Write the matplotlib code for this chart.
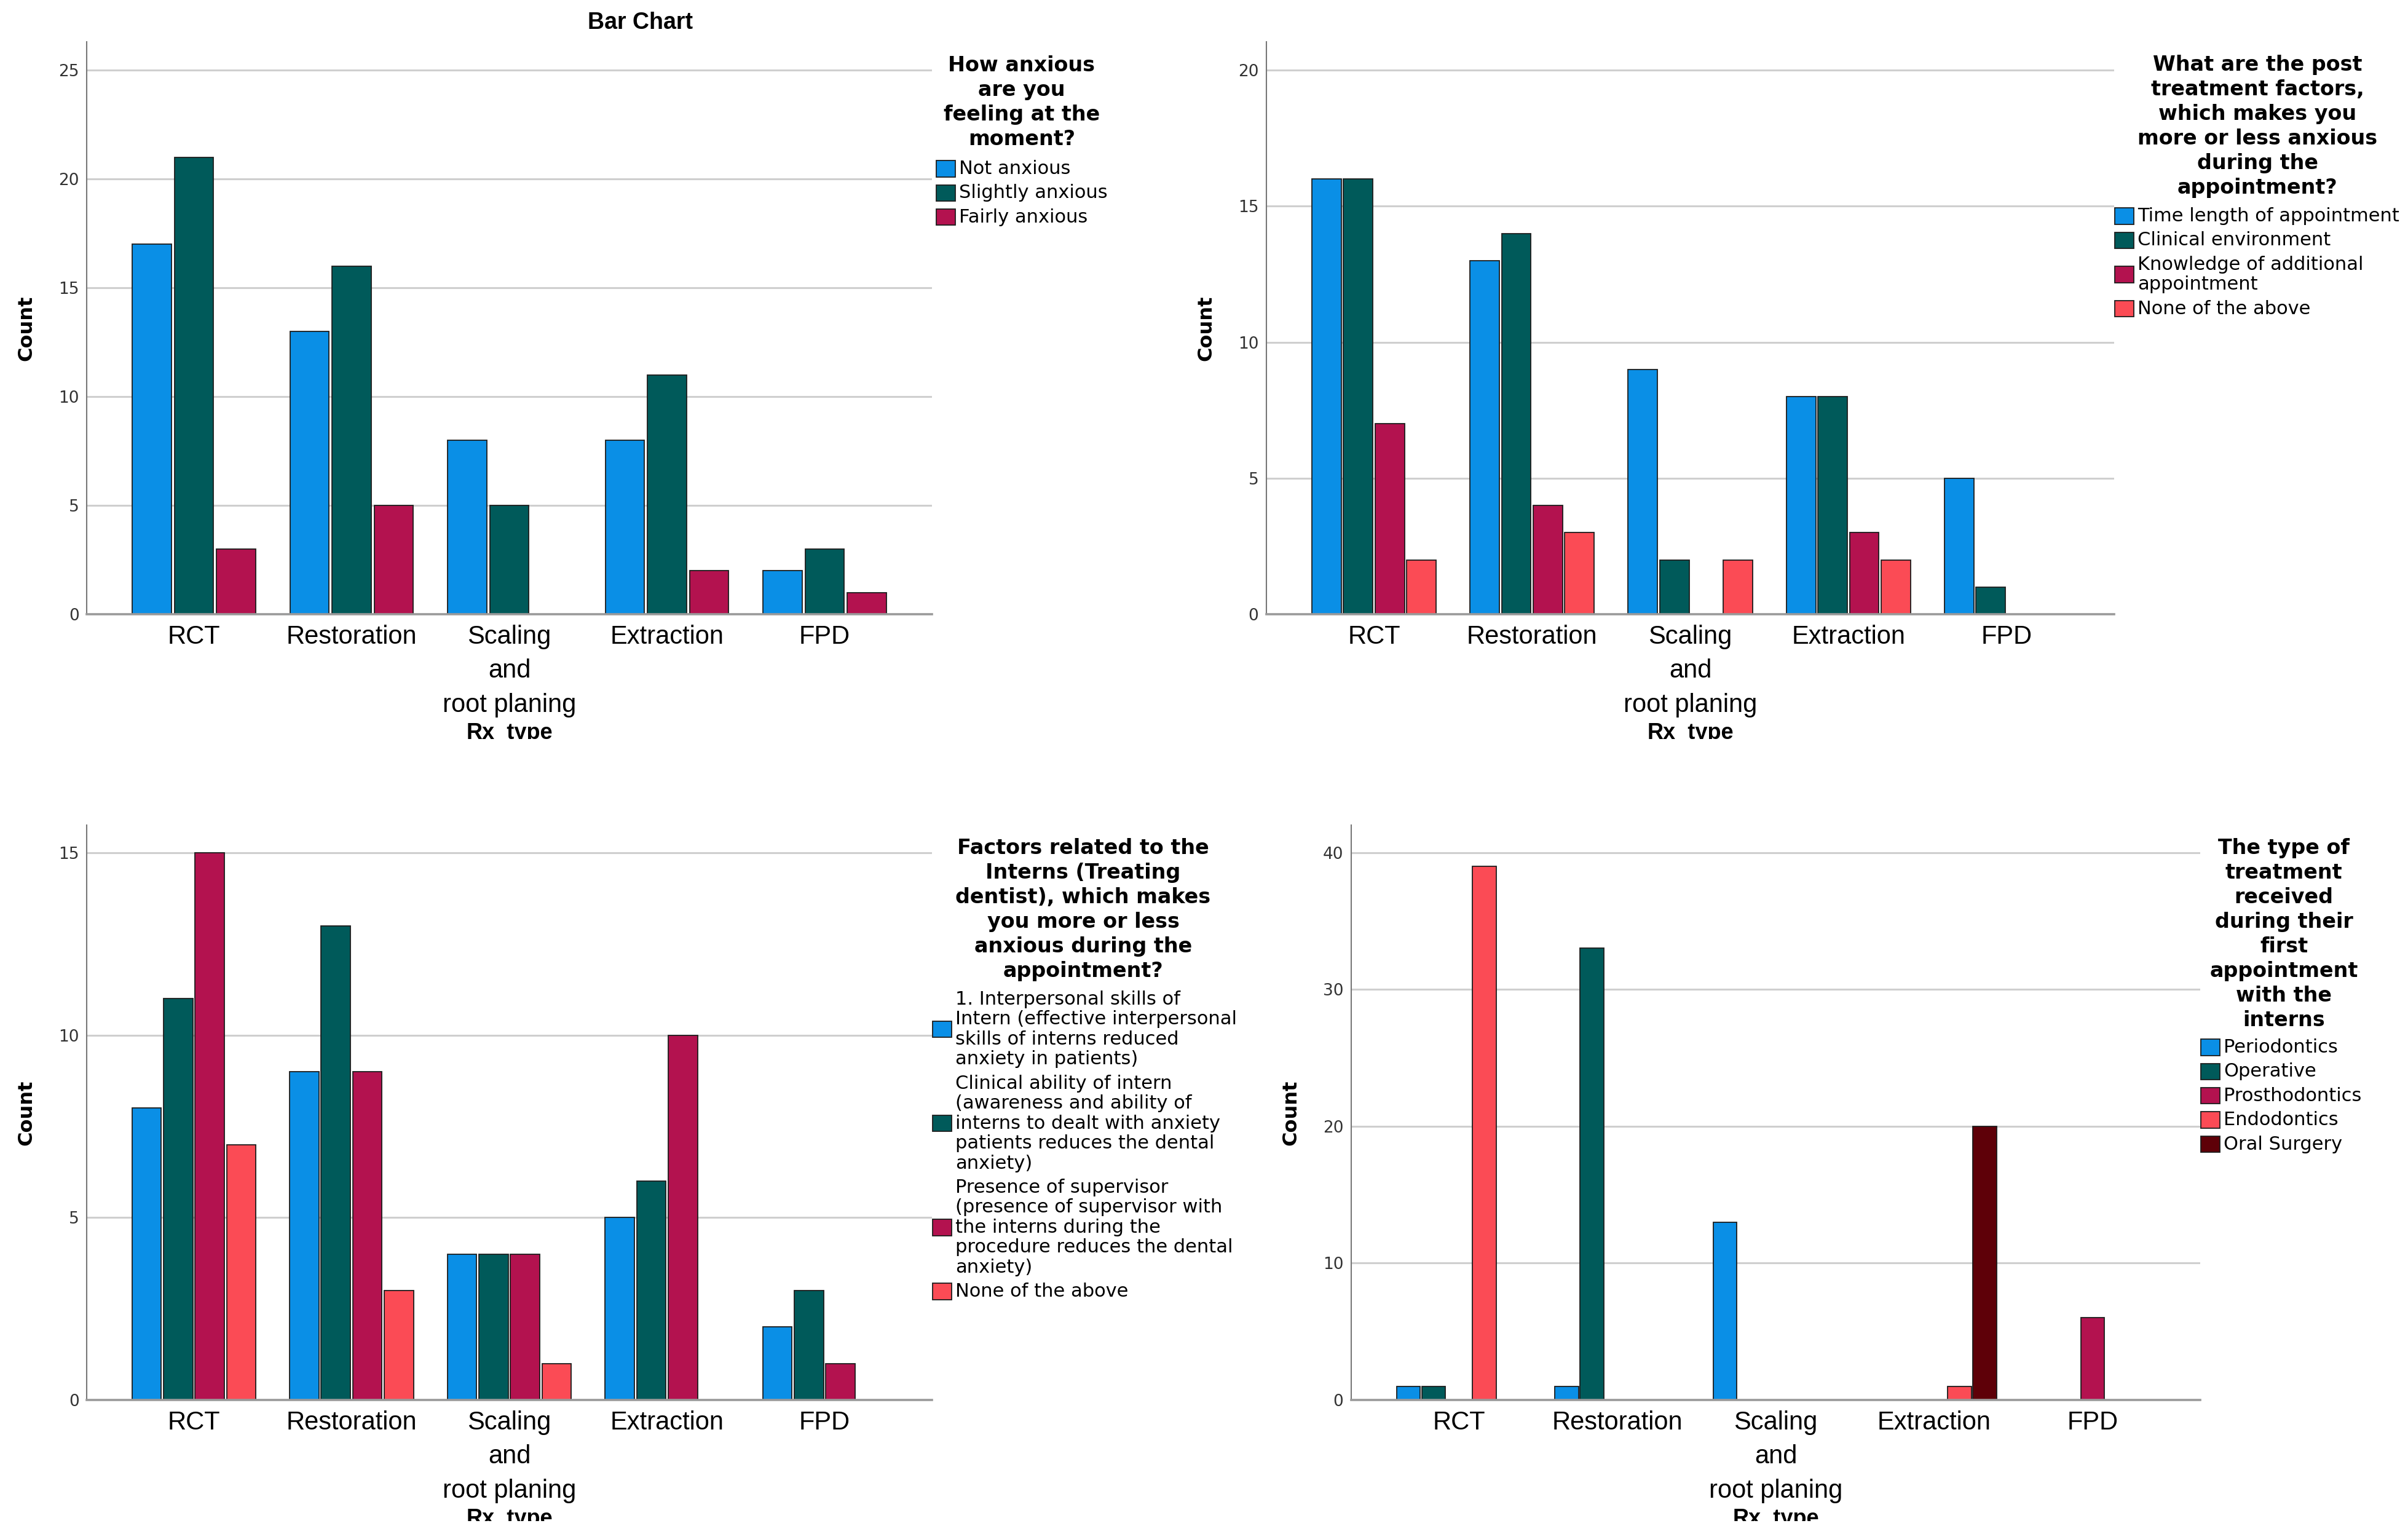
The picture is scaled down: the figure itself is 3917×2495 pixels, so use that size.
import numpy as np
import matplotlib
matplotlib.use("Agg")
import matplotlib.pyplot as plt
from matplotlib.patches import Patch
from matplotlib.transforms import Bbox, TransformedBbox

plt.rcParams["font.family"] = ["DejaVu Sans"]

# ---- data -------------------------------------------------------------
rx_types = ["RCT", "Restoration", "Scaling\nand\nroot planing", "Extraction", "FPD"]

# top-left: current anxiety
anx_title = "How anxious\nare you\nfeeling at the\nmoment?"
anx_labels = ["Not anxious", "Slightly anxious", "Fairly anxious"]
anx_not = [17, 13, 8, 8, 2]
anx_slight = [21, 16, 5, 11, 3]
anx_fair = [3, 5, 0, 2, 1]

# top-right: post treatment factors
post_title = ("What are the post\ntreatment factors,\nwhich makes you\n"
              "more or less anxious\nduring the\nappointment?")
post_labels = ["Time length of appointment", "Clinical environment",
               "Knowledge of additional\nappointment", "None of the above"]
post_time = [16, 13, 9, 8, 5]
post_env = [16, 14, 2, 8, 1]
post_know = [7, 4, 0, 3, 0]
post_none = [2, 3, 2, 2, 0]

# bottom-left: intern related factors
intern_title = ("Factors related to the\nInterns (Treating\ndentist), which makes\n"
                "you more or less\nanxious during the\nappointment?")
intern_labels = [
    "1. Interpersonal skills of\nIntern (effective interpersonal\n"
    "skills of interns reduced\nanxiety in patients)",
    "Clinical ability of intern\n(awareness and ability of\n"
    "interns to dealt with anxiety\npatients reduces the dental\nanxiety)",
    "Presence of supervisor\n(presence of supervisor with\n"
    "the interns during the\nprocedure reduces the dental\nanxiety)",
    "None of the above",
]
intern_skill = [8, 9, 4, 5, 2]
intern_ability = [11, 13, 4, 6, 3]
intern_superv = [15, 9, 4, 10, 1]
intern_none = [7, 3, 1, 0, 0]

# bottom-right: department of first appointment
dept_title = ("The type of\ntreatment\nreceived\nduring their\nfirst\n"
              "appointment\nwith the\ninterns")
dept_labels = ["Periodontics", "Operative", "Prosthodontics", "Endodontics", "Oral Surgery"]
dept_perio = [1, 1, 13, 0, 0]
dept_oper = [1, 33, 0, 0, 0]
dept_prosth = [0, 0, 0, 0, 6]
dept_endo = [39, 0, 0, 1, 0]
dept_oral = [0, 0, 0, 20, 0]

palette = ["#0a8fe6", "#005a5a", "#b3124f", "#fb4b55", "#5e0008"]

W, H = 3917, 2495
fig = plt.figure(figsize=(W / 100, H / 100), dpi=100)


def fx(px):
    return px / W


def fy(py):
    return 1 - py / H


def draw_panel(rect, series, labels, ymax, ystep, title, title_xy, leg_xy, clip_y):
    ax = fig.add_axes(rect)
    n = len(series)
    pitch = 0.8 / n
    x = np.arange(len(rx_types))
    for i, (vals, lab) in enumerate(zip(series, labels)):
        bars = ax.bar(x + (i - (n - 1) / 2) * pitch, vals, width=pitch * 0.93,
                      color=palette[i], edgecolor="#1c1c1c", linewidth=1.3,
                      label=lab, zorder=3)
        for p in bars.patches:
            if p.get_height() == 0:
                p.set_visible(False)

    ax.set_xlim(-0.68, 4.68)
    ax.set_ylim(0, ymax)
    ax.set_yticks(np.arange(0, ymax, ystep))
    ax.set_xticks(x)
    ax.set_xticklabels(rx_types, fontfamily="Liberation Sans", fontsize=30)
    for t in ax.get_xticklabels():
        t.set_linespacing(1.5)
    ax.tick_params(axis="x", length=0, pad=12)
    ax.tick_params(axis="y", length=0, pad=9, labelsize=19, labelcolor="#333333")

    ax.yaxis.grid(True, color="#cfcfcf", linewidth=2.2, zorder=0)
    ax.set_axisbelow(True)
    for s in ["top", "right"]:
        ax.spines[s].set_visible(False)
    ax.spines["left"].set_color("#777777")
    ax.spines["left"].set_linewidth(1.5)
    ax.spines["bottom"].set_color("#9a9a9a")
    ax.spines["bottom"].set_linewidth(2.6)
    ax.spines["bottom"].set_zorder(4)

    ax.set_ylabel("Count", fontsize=23, fontweight="bold")
    ax.yaxis.label.set_va("center")
    ax.yaxis.set_label_coords(-98 / (rect[2] * W), 0.5)

    # axis title sits partly below the cut edge of each chart, as in the source
    ax.set_xlabel("Rx_type", fontfamily="Liberation Sans", fontsize=26, fontweight="bold")
    ax.xaxis.label.set_va("center")
    ax.xaxis.set_label_coords(0.5, -194 / (rect[3] * H))
    ax.xaxis.label.set_clip_box(TransformedBbox(Bbox([[0, clip_y], [1, 1]]), fig.transFigure))
    ax.xaxis.label.set_clip_on(True)

    # legend: title as separate text, entries through legend
    fig.text(title_xy[0], title_xy[1], title, ha="center", va="top", ma="center",
             fontsize=24, fontweight="bold", linespacing=1.27)
    proxies = [Patch(facecolor=palette[i], edgecolor="#1c1c1c", linewidth=1.3) for i in range(n)]
    leg = ax.legend(proxies, labels, loc="upper left", bbox_to_anchor=leg_xy,
                    bbox_transform=fig.transFigure, frameon=False, fontsize=22,
                    handlelength=1.0, handleheight=0.95, handletextpad=0.22,
                    labelspacing=0.34, borderpad=0, borderaxespad=0)
    for t in leg.get_texts():
        t.set_linespacing(1.15)
    for col in leg._legend_handle_box.get_children():
        for row in col.get_children():
            row.align = "center"
    return ax


top_rect_y = fy(999)
top_h = (999 - 68) / H
bot_rect_y = fy(2277)
bot_h = (2277 - 1342) / H

draw_panel([fx(141), top_rect_y, fx(1516 - 141), top_h],
           [anx_not, anx_slight, anx_fair], anx_labels, 26.3, 5,
           anx_title, (fx(1662), fy(90)), (fx(1523), fy(260)), fy(1202))

draw_panel([fx(2060), top_rect_y, fx(3439 - 2060), top_h],
           [post_time, post_env, post_know, post_none], post_labels, 21.04, 5,
           post_title, (fx(3672), fy(89)), (fx(3440), fy(337)), fy(1202))

draw_panel([fx(141), bot_rect_y, fx(1516 - 141), bot_h],
           [intern_skill, intern_ability, intern_superv, intern_none], intern_labels, 15.76, 5,
           intern_title, (fx(1762), fy(1363)), (fx(1517), fy(1611)), fy(2474))

draw_panel([fx(2198), bot_rect_y, fx(3579 - 2198), bot_h],
           [dept_perio, dept_oper, dept_prosth, dept_endo, dept_oral], dept_labels, 42.0, 10,
           dept_title, (fx(3715), fy(1363)), (fx(3580), fy(1689)), fy(2474))

fig.text(fx(1042), fy(37), "Bar Chart", ha="center", va="center",
         fontfamily="Liberation Sans", fontsize=27, fontweight="bold")

fig.savefig("out.png", dpi=100)
